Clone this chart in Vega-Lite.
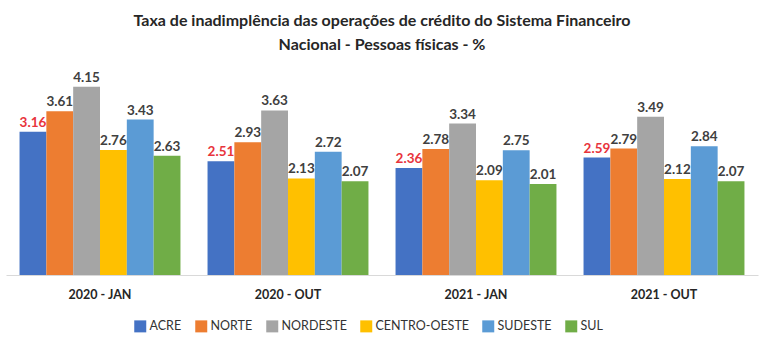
{
  "$schema": "https://vega.github.io/schema/vega-lite/v6.json",
  "width": 752,
  "height": 204,
  "padding": {"left": 6, "top": 12, "right": 10, "bottom": 5},
  "autosize": {"type": "pad"},
  "title": {
    "text": ["Taxa de inadimplência das operações de crédito do Sistema Financeiro", "Nacional - Pessoas físicas - %"],
    "font": "Lato",
    "fontSize": 16,
    "fontWeight": "bold",
    "color": "#262626",
    "lineHeight": 24,
    "offset": 18,
    "anchor": "middle"
  },
  "data": {
    "values": [
      {"periodo": "2020 - JAN", "regiao": "ACRE", "taxa": 3.16},
      {"periodo": "2020 - JAN", "regiao": "NORTE", "taxa": 3.61},
      {"periodo": "2020 - JAN", "regiao": "NORDESTE", "taxa": 4.15},
      {"periodo": "2020 - JAN", "regiao": "CENTRO-OESTE", "taxa": 2.76},
      {"periodo": "2020 - JAN", "regiao": "SUDESTE", "taxa": 3.43},
      {"periodo": "2020 - JAN", "regiao": "SUL", "taxa": 2.63},
      {"periodo": "2020 - OUT", "regiao": "ACRE", "taxa": 2.51},
      {"periodo": "2020 - OUT", "regiao": "NORTE", "taxa": 2.93},
      {"periodo": "2020 - OUT", "regiao": "NORDESTE", "taxa": 3.63},
      {"periodo": "2020 - OUT", "regiao": "CENTRO-OESTE", "taxa": 2.13},
      {"periodo": "2020 - OUT", "regiao": "SUDESTE", "taxa": 2.72},
      {"periodo": "2020 - OUT", "regiao": "SUL", "taxa": 2.07},
      {"periodo": "2021 - JAN", "regiao": "ACRE", "taxa": 2.36},
      {"periodo": "2021 - JAN", "regiao": "NORTE", "taxa": 2.78},
      {"periodo": "2021 - JAN", "regiao": "NORDESTE", "taxa": 3.34},
      {"periodo": "2021 - JAN", "regiao": "CENTRO-OESTE", "taxa": 2.09},
      {"periodo": "2021 - JAN", "regiao": "SUDESTE", "taxa": 2.75},
      {"periodo": "2021 - JAN", "regiao": "SUL", "taxa": 2.01},
      {"periodo": "2021 - OUT", "regiao": "ACRE", "taxa": 2.59},
      {"periodo": "2021 - OUT", "regiao": "NORTE", "taxa": 2.79},
      {"periodo": "2021 - OUT", "regiao": "NORDESTE", "taxa": 3.49},
      {"periodo": "2021 - OUT", "regiao": "CENTRO-OESTE", "taxa": 2.12},
      {"periodo": "2021 - OUT", "regiao": "SUDESTE", "taxa": 2.84},
      {"periodo": "2021 - OUT", "regiao": "SUL", "taxa": 2.07}
    ]
  },
  "encoding": {
    "x": {
      "field": "periodo",
      "type": "nominal",
      "sort": ["2020 - JAN", "2020 - OUT", "2021 - JAN", "2021 - OUT"],
      "scale": {"paddingInner": 0.144, "paddingOuter": 0.072},
      "axis": {
        "title": null,
        "labelAngle": 0,
        "ticks": false,
        "domainColor": "#d9d9d9",
        "labelFont": "Lato",
        "labelFontSize": 12.5,
        "labelFontWeight": "bold",
        "labelColor": "#262626",
        "labelPadding": 13,
        "grid": false
      }
    },
    "xOffset": {
      "field": "regiao",
      "type": "nominal",
      "sort": ["ACRE", "NORTE", "NORDESTE", "CENTRO-OESTE", "SUDESTE", "SUL"],
      "scale": {"paddingInner": 0, "paddingOuter": 0}
    },
    "y": {
      "field": "taxa",
      "type": "quantitative",
      "scale": {"domain": [0, 4.5]},
      "axis": null
    }
  },
  "layer": [
    {
      "mark": {"type": "bar"},
      "encoding": {
        "color": {
          "field": "regiao",
          "type": "nominal",
          "sort": ["ACRE", "NORTE", "NORDESTE", "CENTRO-OESTE", "SUDESTE", "SUL"],
          "scale": {
            "domain": ["ACRE", "NORTE", "NORDESTE", "CENTRO-OESTE", "SUDESTE", "SUL"],
            "range": ["#4472c4", "#ed7d31", "#a5a5a5", "#ffc000", "#5b9bd5", "#70ad47"]
          },
          "legend": {
            "title": null,
            "orient": "none",
            "legendX": 128,
            "legendY": 249,
            "direction": "horizontal",
            "symbolType": "square",
            "symbolSize": 144,
            "symbolStrokeWidth": 0,
            "labelFont": "Lato",
            "labelFontSize": 12.5,
            "labelColor": "#333333",
            "labelOffset": 3,
            "columnPadding": 13
          }
        }
      }
    },
    {
      "mark": {"type": "text", "baseline": "bottom", "dy": -2, "font": "Lato", "fontSize": 13.5, "fontWeight": "bold"},
      "encoding": {
        "text": {"field": "taxa", "type": "quantitative", "format": ".2f"},
        "color": {
          "condition": {"test": "datum.regiao === 'ACRE'", "value": "#e8343c"},
          "value": "#404040"
        }
      }
    }
  ],
  "config": {
    "view": {"stroke": null},
    "background": "#ffffff"
  }
}
